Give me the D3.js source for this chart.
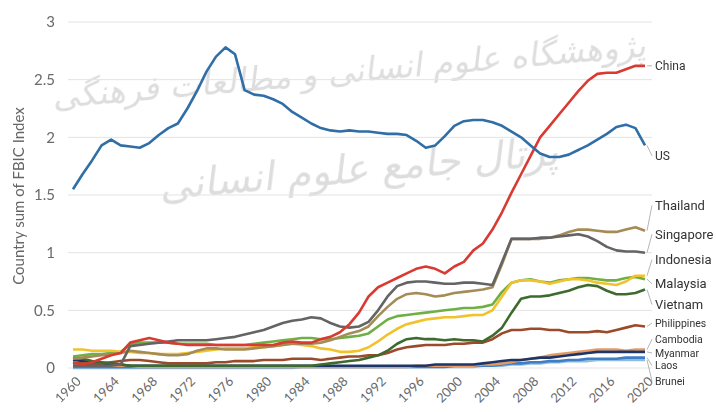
<!DOCTYPE html>
<html>
<head>
<meta charset="utf-8">
<script src="https://cdn.jsdelivr.net/npm/d3@7"></script>
<style>
  body { margin: 0; background: #fff; }
  svg { display: block; font-family: Lato, "Open Sans", sans-serif; }
</style>
</head>
<body>
<div id="chart"></div>
<script>
// FBIC index, country sums, 1960-2020
const years = d3.range(1960, 2021);

const usValues = [1.55,1.68,1.80,1.93,1.98,1.93,1.92,1.91,1.95,2.02,2.08,2.12,2.25,2.40,2.57,2.70,2.78,2.72,2.41,2.37,
  2.36,2.33,2.29,2.22,2.17,2.12,2.08,2.06,2.05,2.06,2.05,2.05,2.04,2.03,2.03,2.02,1.97,1.91,1.93,2.01,
  2.10,2.14,2.15,2.15,2.13,2.10,2.05,2.00,1.93,1.86,1.83,1.83,1.85,1.89,1.93,1.98,2.03,2.09,2.11,2.08,1.93];
const chinaValues = [0.05,0.03,0.05,0.08,0.11,0.13,0.22,0.24,0.26,0.24,0.22,0.21,0.20,0.20,0.20,0.20,0.20,0.20,0.20,0.20,
  0.20,0.20,0.22,0.23,0.22,0.22,0.25,0.27,0.31,0.38,0.48,0.62,0.70,0.74,0.78,0.82,0.86,0.88,0.86,0.82,
  0.88,0.92,1.02,1.08,1.20,1.35,1.52,1.68,1.84,2.00,2.10,2.20,2.30,2.40,2.49,2.55,2.56,2.56,2.59,2.62,2.62];
const thailandValues = [0.08,0.09,0.10,0.11,0.12,0.13,0.15,0.14,0.13,0.12,0.11,0.11,0.12,0.15,0.17,0.17,0.16,0.16,0.16,0.17,
  0.18,0.19,0.20,0.21,0.21,0.21,0.22,0.24,0.27,0.30,0.32,0.36,0.45,0.53,0.60,0.64,0.65,0.64,0.62,0.63,
  0.65,0.66,0.67,0.68,0.70,0.90,1.12,1.12,1.12,1.12,1.13,1.15,1.18,1.20,1.20,1.19,1.18,1.18,1.20,1.22,1.19];
const singaporeValues = [0.02,0.02,0.02,0.02,0.02,0.03,0.19,0.20,0.21,0.22,0.23,0.24,0.24,0.24,0.24,0.25,0.26,0.27,0.29,0.31,
  0.33,0.36,0.39,0.41,0.42,0.44,0.43,0.39,0.36,0.35,0.36,0.40,0.50,0.62,0.71,0.74,0.75,0.75,0.74,0.73,
  0.73,0.74,0.74,0.73,0.72,0.92,1.12,1.12,1.12,1.13,1.13,1.14,1.15,1.16,1.14,1.10,1.05,1.02,1.01,1.01,1.00];
const indonesiaValues = [0.16,0.16,0.15,0.15,0.15,0.14,0.14,0.13,0.13,0.12,0.12,0.12,0.13,0.14,0.15,0.16,0.17,0.17,0.17,0.18,
  0.18,0.19,0.20,0.21,0.20,0.19,0.17,0.16,0.14,0.14,0.15,0.18,0.23,0.29,0.34,0.38,0.40,0.42,0.43,0.44,
  0.44,0.45,0.46,0.46,0.50,0.62,0.74,0.76,0.76,0.75,0.73,0.75,0.77,0.77,0.76,0.74,0.73,0.72,0.75,0.80,0.80];
const malaysiaValues = [0.10,0.11,0.12,0.12,0.13,0.14,0.20,0.22,0.22,0.22,0.22,0.21,0.21,0.21,0.21,0.20,0.20,0.20,0.20,0.21,
  0.22,0.23,0.24,0.25,0.26,0.26,0.25,0.25,0.26,0.27,0.28,0.30,0.36,0.42,0.45,0.46,0.47,0.48,0.49,0.50,
  0.51,0.52,0.52,0.53,0.55,0.66,0.74,0.76,0.77,0.75,0.74,0.76,0.77,0.78,0.78,0.77,0.76,0.76,0.78,0.79,0.77];
const vietnamValues = [0.09,0.08,0.06,0.05,0.04,0.03,0.02,0.02,0.02,0.02,0.02,0.02,0.02,0.02,0.02,0.02,0.02,0.02,0.02,0.02,
  0.02,0.02,0.02,0.02,0.02,0.02,0.03,0.04,0.05,0.06,0.07,0.09,0.11,0.15,0.21,0.25,0.26,0.25,0.25,0.24,
  0.25,0.24,0.24,0.23,0.28,0.35,0.48,0.60,0.62,0.62,0.63,0.65,0.67,0.70,0.72,0.71,0.67,0.64,0.64,0.65,0.68];
const philippinesValues = [0.04,0.04,0.03,0.04,0.05,0.06,0.07,0.07,0.06,0.05,0.04,0.04,0.04,0.04,0.04,0.05,0.05,0.06,0.06,0.06,
  0.07,0.07,0.07,0.08,0.08,0.08,0.07,0.08,0.09,0.10,0.10,0.11,0.11,0.13,0.16,0.18,0.19,0.20,0.20,0.20,
  0.21,0.21,0.22,0.22,0.25,0.30,0.33,0.33,0.34,0.34,0.33,0.33,0.31,0.31,0.31,0.32,0.31,0.33,0.35,0.37,0.36];
const cambodiaValues = [0.02,0.02,0.02,0.02,0.02,0.02,0.02,0.01,0.01,0.01,0.01,0.01,0.01,0.01,0.01,0.01,0.01,0.01,0.01,0.01,
  0.01,0.01,0.01,0.01,0.01,0.01,0.01,0.01,0.01,0.01,0.01,0.01,0.01,0.01,0.01,0.01,0.02,0.02,0.02,0.02,
  0.02,0.02,0.02,0.03,0.03,0.04,0.05,0.07,0.08,0.09,0.11,0.12,0.13,0.14,0.15,0.16,0.16,0.16,0.15,0.16,0.16];
const myanmarValues = [0.07,0.06,0.05,0.04,0.03,0.03,0.02,0.02,0.02,0.02,0.02,0.02,0.02,0.02,0.02,0.02,0.02,0.02,0.02,0.02,
  0.02,0.02,0.02,0.02,0.02,0.02,0.02,0.02,0.02,0.02,0.02,0.02,0.02,0.02,0.02,0.02,0.02,0.02,0.03,0.03,
  0.03,0.03,0.03,0.04,0.05,0.06,0.07,0.07,0.08,0.09,0.09,0.10,0.11,0.12,0.13,0.14,0.14,0.14,0.14,0.14,0.14];
const laosValues = [0.01,0.01,0.01,0.01,0.01,0.01,0.01,0.01,0.01,0.01,0.01,0.01,0.01,0.01,0.01,0.01,0.01,0.01,0.01,0.01,
  0.01,0.01,0.01,0.01,0.01,0.01,0.01,0.01,0.01,0.01,0.01,0.01,0.01,0.01,0.01,0.01,0.01,0.01,0.01,0.01,
  0.02,0.02,0.02,0.02,0.02,0.03,0.04,0.04,0.05,0.05,0.06,0.06,0.07,0.07,0.08,0.08,0.08,0.08,0.09,0.09,0.09];
const bruneiValues = [0.00,0.00,0.00,0.00,0.00,0.00,0.00,0.00,0.00,0.00,0.00,0.00,0.00,0.00,0.00,0.00,0.00,0.00,0.00,0.00,
  0.00,0.00,0.00,0.00,0.01,0.01,0.01,0.01,0.01,0.01,0.01,0.01,0.01,0.01,0.01,0.01,0.01,0.01,0.01,0.01,
  0.01,0.01,0.01,0.02,0.02,0.02,0.03,0.03,0.04,0.04,0.05,0.05,0.06,0.06,0.06,0.07,0.07,0.07,0.07,0.07,0.07];

const yTicks = [0, 0.5, 1, 1.5, 2, 2.5, 3];
const xTicks = d3.range(1960, 2021, 4);

// drawing order: back to front
const series = [
  { name: "Brunei", values: bruneiValues, color: "#8fbbe3", labelAt: -0.115, size: 10.5 },
  { name: "Laos", values: laosValues, color: "#3f7dc4", labelAt: 0.02, size: 10.5 },
  { name: "Cambodia", values: cambodiaValues, color: "#e69a63", labelAt: 0.25, size: 10.5 },
  { name: "Myanmar", values: myanmarValues, color: "#1e3667", labelAt: 0.13, size: 10.5 },
  { name: "Philippines", values: philippinesValues, color: "#9b4b2c", labelAt: 0.39, size: 10.5 },
  { name: "Vietnam", values: vietnamValues, color: "#3e6a2e", labelAt: 0.55, size: 13 },
  { name: "Malaysia", values: malaysiaValues, color: "#6fb044", labelAt: 0.73, size: 13 },
  { name: "Indonesia", values: indonesiaValues, color: "#f1c22c", labelAt: 0.94, size: 13 },
  { name: "Thailand", values: thailandValues, color: "#a58c56", labelAt: 1.41, size: 13 },
  { name: "Singapore", values: singaporeValues, color: "#646464", labelAt: 1.16, size: 13 },
  { name: "China", values: chinaValues, color: "#d93a32", labelAt: 2.62, size: 12 },
  { name: "US", values: usValues, color: "#2f6ea6", labelAt: 1.84, size: 12 }
];

const fullWidth = 716;
const fullHeight = 412;

const svg = d3.select("#chart").append("svg")
    .attr("width", fullWidth)
    .attr("height", fullHeight);

const x = d3.scaleLinear().domain([1960, 2020]).range([73, 645]);
const y = d3.scaleLinear().domain([0, 3]).range([368, 22]);

// faint watermark of the source scan
const wm = svg.append("g")
    .style("font-family", "'DejaVu Sans', sans-serif")
    .style("fill", "#c6c6c6")
    .style("opacity", 0.6);
wm.append("text")
    .attr("transform", "translate(350,82) rotate(-5) skewX(-12)")
    .attr("text-anchor", "middle")
    .style("font-size", "33px")
    .text("پژوهشگاه علوم انسانی و مطالعات فرهنگی");
wm.append("text")
    .attr("transform", "translate(360,182) rotate(-5) skewX(-12)")
    .attr("text-anchor", "middle")
    .style("font-size", "40px")
    .text("پرتال جامع علوم انسانی");

// grid
svg.append("g")
  .selectAll("line")
  .data(yTicks)
  .join("line")
    .attr("x1", 68)
    .attr("x2", 652)
    .attr("y1", d => y(d))
    .attr("y2", d => y(d))
    .style("stroke", "#e3e3e3")
    .style("stroke-width", 1);

// y axis labels
const yAxis = d3.axisLeft(y)
    .tickValues(yTicks)
    .tickFormat(d3.format("~g"))
    .tickSize(0)
    .tickPadding(13);

svg.append("g")
    .attr("transform", "translate(68,0)")
    .call(yAxis)
    .call(g => g.select(".domain").remove())
    .call(g => g.selectAll("text")
        .style("font-family", "Lato, sans-serif")
        .style("font-size", "15px")
        .style("fill", "#6a6a6a"));

// x axis labels, rotated
const xAxis = d3.axisBottom(x)
    .tickValues(xTicks)
    .tickFormat(d3.format("d"))
    .tickSize(0);

svg.append("g")
    .attr("transform", "translate(0,370)")
    .call(xAxis)
    .call(g => g.select(".domain").remove())
    .call(g => g.selectAll("text")
        .attr("y", 0)
        .attr("dy", "0.35em")
        .attr("text-anchor", "end")
        .attr("transform", "translate(5,9) rotate(-45)")
        .style("font-family", "Lato, sans-serif")
        .style("font-size", "13px")
        .style("fill", "#6a6a6a"));

// y axis title
svg.append("text")
    .attr("transform", "translate(24,196) rotate(-90)")
    .attr("text-anchor", "middle")
    .style("font-size", "15px")
    .style("fill", "#666")
    .text("Country sum of FBIC Index");

// lines
const line = d3.line()
    .x((d, i) => x(years[i]))
    .y(d => y(d));

svg.append("g")
  .selectAll("path")
  .data(series)
  .join("path")
    .attr("d", d => line(d.values))
    .style("fill", "none")
    .style("stroke", d => d.color)
    .style("stroke-width", 2.6)
    .style("stroke-linejoin", "round");

// end labels with leader lines
const labelX = 655;
const labels = svg.append("g");

labels.selectAll("line")
  .data(series)
  .join("line")
    .attr("x1", x(2020) + 2)
    .attr("y1", d => y(d.values[d.values.length - 1]))
    .attr("x2", labelX - 3)
    .attr("y2", d => y(d.labelAt))
    .style("stroke", "#b5b5b5")
    .style("stroke-width", 1);

labels.selectAll("text")
  .data(series)
  .join("text")
    .attr("x", labelX)
    .attr("y", d => y(d.labelAt))
    .attr("dy", "0.35em")
    .style("font-family", "Roboto, sans-serif")
    .style("font-size", d => d.size + "px")
    .style("fill", "#333")
    .text(d => d.name);
</script>
</body>
</html>
